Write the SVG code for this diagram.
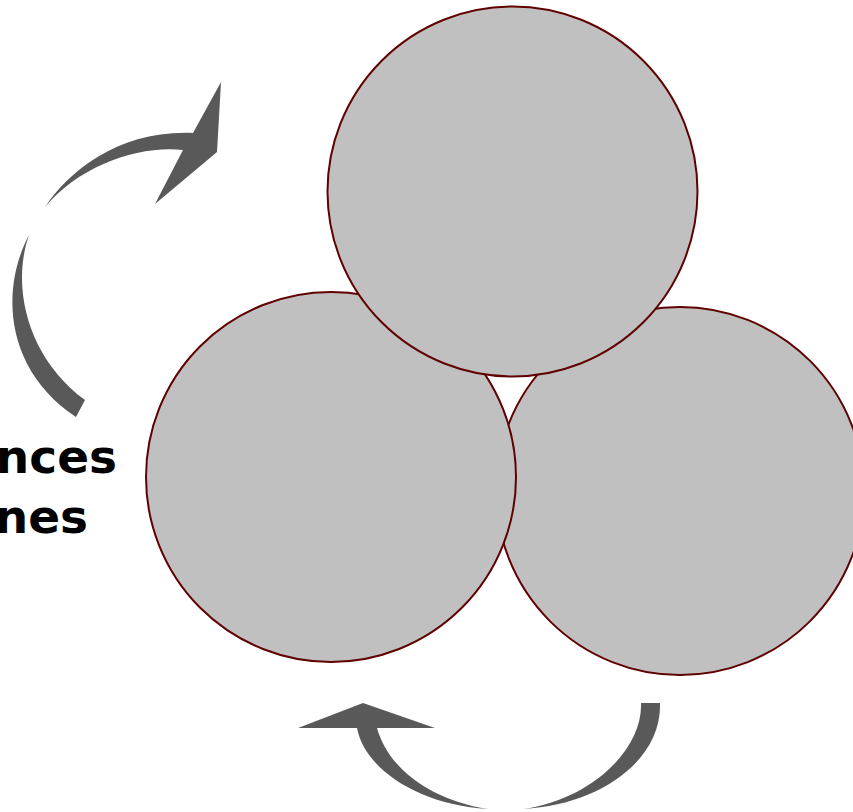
<svg xmlns="http://www.w3.org/2000/svg" width="853" height="812" viewBox="0 0 853 812">
<style>
.circ{fill:#c0c0c0;stroke:#600000;stroke-width:2}
.arr{fill:#595959;stroke:none}
.lbl{font-family:"DejaVu Sans","Verdana",sans-serif;font-weight:bold;font-size:47px;fill:#000;text-anchor:end}
</style>
<rect width="853" height="812" fill="#fff"/>
<g id="connectors">
<g id="arrow-top-left">
<path class="arr" d="M29,235 C0,290 5,370 76,417 L85,400 C30,360 10,290 29,235 Z"/>
<path class="arr" d="M45,207 C70,170 120,130 193,133 L221,82 L217,152 L155,204 L183,150 C140,145 80,165 45,207 Z"/>
</g>
<g id="arrow-bottom">
<path class="arr" d="M660,703 C662,760 600,805 523,809 C590,800 643,750 641,703 Z"/>
<path class="arr" d="M298,728 L363,703 L435,728 L377,728 C388,768 430,800 488,809 C420,805 365,770 357,728 Z"/>
</g>
</g>
<g id="circle-right"><circle class="circ" cx="680" cy="491" r="184"/></g>
<g id="circle-left"><circle class="circ" cx="331" cy="477" r="185"/></g>
<g id="circle-top"><circle class="circ" cx="512.5" cy="191.5" r="185"/></g>
<g id="label">
<text class="lbl" x="117" y="473">nces</text>
<text class="lbl" x="88" y="533">nes</text>
</g>
</svg>
